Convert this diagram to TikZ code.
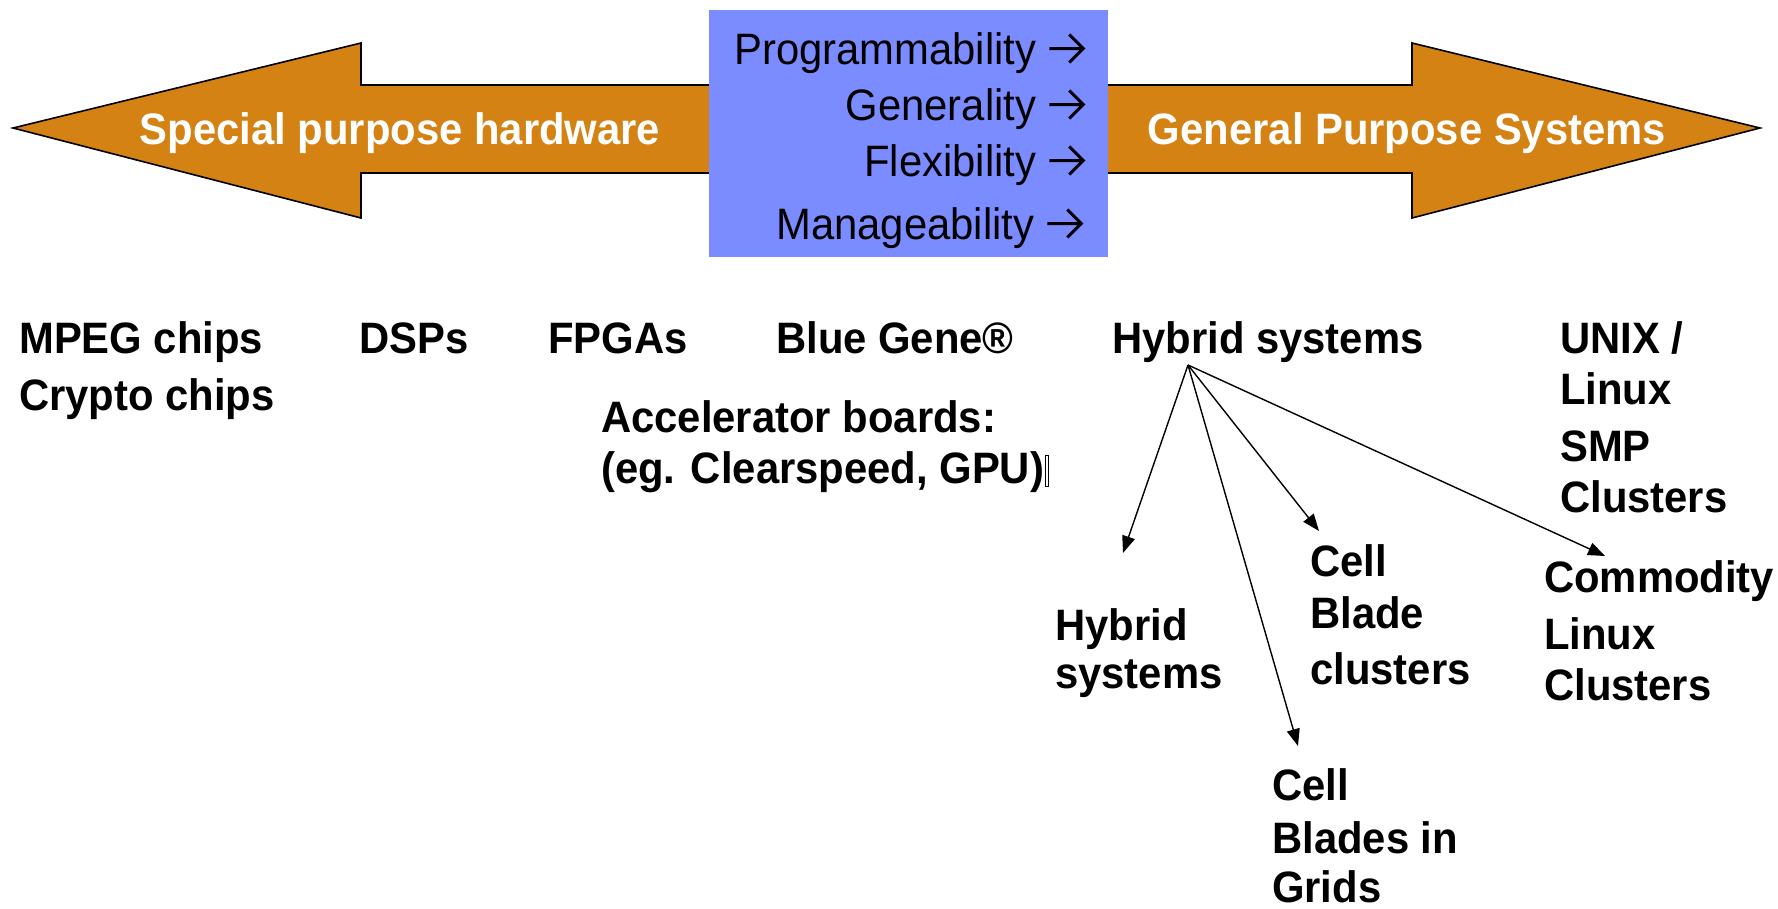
\documentclass[tikz,border=0pt]{standalone}
\usepackage{fontspec}
\setmainfont{Liberation Sans}[FakeStretch=0.95]
\usetikzlibrary{arrows.meta}
\definecolor{arroworange}{HTML}{D38213}
\definecolor{boxblue}{HTML}{7A8CFF}
\newcommand{\chevarrow}{\tikz[baseline=0pt]\draw[line width=3pt, line join=miter, line cap=butt] (0pt,15.5pt) -- (34pt,15.5pt) (20pt,1.5pt) -- (34pt,15.5pt) -- (20pt,29.5pt);}
\tikzset{
  bigarrow/.style={draw=black, line width=1.6pt, fill=arroworange, line join=miter},
  arrowlabel/.style={text=white, font=\fontsize{44}{50}\selectfont\bfseries, inner sep=0pt},
  boxtext/.style={anchor=base east, font=\fontsize{44}{50}\selectfont, inner sep=0pt},
  lbl/.style={anchor=base west, font=\fontsize{44}{50}\selectfont\bfseries, inner sep=0pt},
  link/.style={line width=1.4pt, -{Triangle[length=17pt,width=13pt]}}
}
\begin{document}
\begin{tikzpicture}[x=1pt,y=-1pt]
\useasboundingbox (0,0) rectangle (1778,908);
% big arrows
\draw[bigarrow] (13,128) -- (361,43) -- (361,85) -- (712,85) -- (712,173) -- (361,173) -- (361,218) -- cycle;
\draw[bigarrow] (1105,85) -- (1412,85) -- (1412,43) -- (1760,128) -- (1412,218) -- (1412,173) -- (1105,173) -- cycle;
% blue box
\fill[boxblue] (709,10) rectangle (1108,257);
\node[boxtext] (prog) at (1085,64) {Programmability \chevarrow};
\node[boxtext] (gen) at (1085,120) {Generality \chevarrow};
\node[boxtext] (flex) at (1085,176) {Flexibility \chevarrow};
\node[boxtext] (man) at (1083,239) {Manageability \chevarrow};
% arrow labels
\node[arrowlabel, anchor=base] (spec) at (400,144) {Special purpose hardware};
\node[arrowlabel, anchor=base] (gps) at (1407,144) {General Purpose Systems};
% bottom labels
\node[lbl] (mpeg) at (19,353) {MPEG chips};
\node[lbl] (crypto) at (19,410) {Crypto chips};
\node[lbl] (dsp) at (359,353) {DSPs};
\node[lbl] (fpga) at (548,353) {FPGAs};
\node[lbl] (bg) at (776,353) {Blue Gene®};
\node[lbl] (hyb) at (1112,353) {Hybrid systems};
\node[lbl] (unix1) at (1560,353) {UNIX /};
\node[lbl] (unix2) at (1560,404) {Linux};
\node[lbl] (unix3) at (1560,461) {SMP};
\node[lbl] (unix4) at (1560,512) {Clusters};
\node[lbl] (acc1) at (601,432) {Accelerator boards:};
\node[lbl] (acc2) at (601,483) {(eg. Clearspeed, GPU)};
\draw[line width=1pt] (1045,455) rectangle (1048,486);
\node[lbl] (hs1) at (1055,640) {Hybrid};
\node[lbl] (hs2) at (1055,688) {systems};
\node[lbl] (cb1) at (1310,576) {Cell};
\node[lbl] (cb2) at (1310,628) {Blade};
\node[lbl] (cb3) at (1310,684) {clusters};
\node[lbl] (cg1) at (1272,800) {Cell};
\node[lbl] (cg2) at (1272,853) {Blades in};
\node[lbl] (cg3) at (1272,902) {Grids};
\node[lbl] (cl1) at (1544,592) {Commodity};
\node[lbl] (cl2) at (1544,649) {Linux};
\node[lbl] (cl3) at (1544,700) {Clusters};
% tree
\coordinate (o) at (1188,365);
\coordinate (t1) at (1123,553);
\coordinate (t2) at (1298,746);
\coordinate (t3) at (1319,531);
\coordinate (t4) at (1605,556);
\draw[link] (o) -- (t1);
\draw[link] (o) -- (t2);
\draw[link] (o) -- (t3);
\draw[link] (o) -- (t4);
\end{tikzpicture}
\end{document}
